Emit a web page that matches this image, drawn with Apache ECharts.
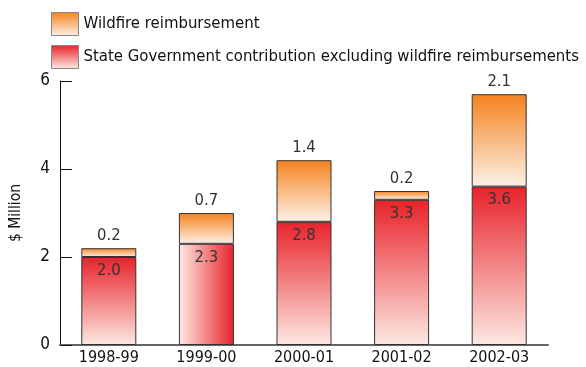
<!DOCTYPE html>
<html>
<head>
<meta charset="utf-8">
<script src="https://cdn.jsdelivr.net/npm/echarts@6/dist/echarts.min.js"></script>
<style>
  html, body { margin: 0; padding: 0; background: #fff; }
  #chart { width: 586px; height: 367px; }
</style>
</head>
<body>
<div id="chart"></div>
<script>
// data
const years = ['1998-99', '1999-00', '2000-01', '2001-02', '2002-03']
const stateContribution = [2.0, 2.3, 2.8, 3.3, 3.6]
const wildfire = [0.2, 0.7, 1.4, 0.2, 2.1]
const yTicks = [0, 2, 4, 6]

const FONT = '"DejaVu Sans Condensed", "Liberation Sans", sans-serif'

// vertical gradients, dark at the top
const orangeFill = new echarts.graphic.LinearGradient(0, 0, 0, 1, [
  { offset: 0, color: '#f4821e' },
  { offset: 1, color: '#fdf1e8' }
])
const redFill = new echarts.graphic.LinearGradient(0, 0, 0, 1, [
  { offset: 0, color: '#e8222a' },
  { offset: 1, color: '#fde9e2' }
])
// the 1999-00 bar is shaded left to right in the original
const redSideways = new echarts.graphic.LinearGradient(0, 0, 1, 0, [
  { offset: 0, color: '#fde9e2' },
  { offset: 1, color: '#e8222a' }
])

const barStyle = { borderColor: '#333', borderWidth: 1 }
const labelStyle = { fontFamily: FONT, fontSize: 16.5, color: '#333' }

const option = {
  animation: false,
  textStyle: { fontFamily: FONT },
  legend: {
    orient: 'vertical',
    left: 51,
    top: 12,
    padding: 0,
    icon: 'rect',
    itemWidth: 27,
    itemHeight: 23,
    itemGap: 9,
    itemStyle: { borderColor: '#888', borderWidth: 1 },
    textStyle: { fontFamily: FONT, fontSize: 16.6, color: '#111' },
    data: ['Wildfire reimbursement', 'State Government contribution excluding wildfire reimbursements']
  },
  grid: { left: 58, right: 38, top: 81, bottom: 22 },
  xAxis: {
    type: 'category',
    data: years,
    axisLine: { lineStyle: { color: '#666', width: 2 } },
    axisTick: { show: false },
    axisLabel: { fontFamily: FONT, fontSize: 16, color: '#111', margin: 5 }
  },
  yAxis: {
    type: 'value',
    min: yTicks[0],
    max: yTicks[yTicks.length - 1],
    interval: 2,
    name: '$ Million',
    nameLocation: 'middle',
    nameGap: 36,
    nameTextStyle: { fontFamily: FONT, fontSize: 15.5, color: '#111' },
    axisLine: { show: true, lineStyle: { color: '#111', width: 1 } },
    axisTick: { show: true, inside: true, length: 12, lineStyle: { color: '#111' } },
    splitLine: { show: false },
    axisLabel: { fontFamily: FONT, fontSize: 17, color: '#111', margin: 10 }
  },
  series: [
    {
      name: 'State Government contribution excluding wildfire reimbursements',
      type: 'bar',
      stack: 'total',
      barWidth: 55,
      itemStyle: Object.assign({ color: redFill }, barStyle),
      label: Object.assign({ show: true, position: 'insideTop', distance: 5, formatter: p => p.value.toFixed(1) }, labelStyle),
      data: stateContribution.map((v, i) => i === 1 ? { value: v, itemStyle: { color: redSideways } } : v)
    },
    {
      name: 'Wildfire reimbursement',
      type: 'bar',
      stack: 'total',
      barWidth: 55,
      itemStyle: Object.assign({ color: orangeFill }, barStyle),
      label: Object.assign({ show: true, position: 'top', distance: 4, formatter: p => p.value.toFixed(1) }, labelStyle),
      data: wildfire
    }
  ]
}

const myChart = echarts.init(document.getElementById('chart'), null, { renderer: 'canvas' })
myChart.setOption(option)
</script>
</body>
</html>
